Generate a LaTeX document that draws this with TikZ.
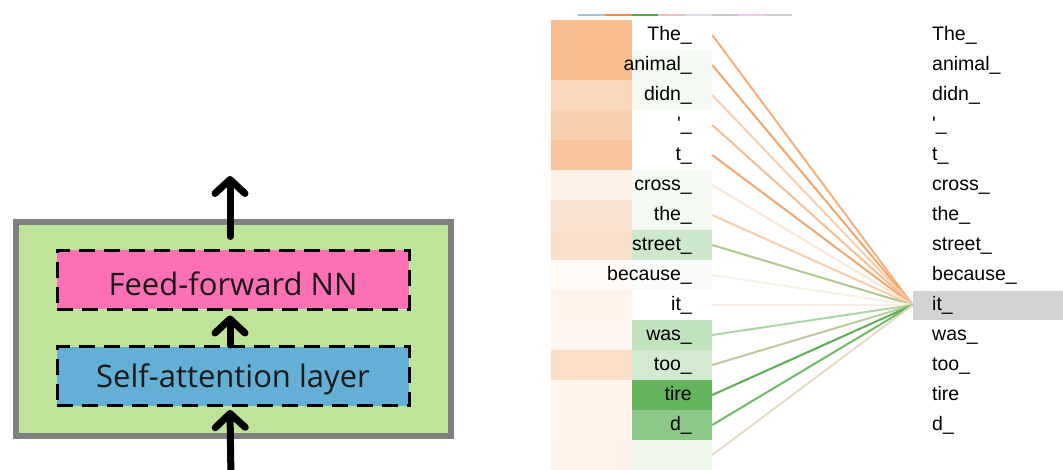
\documentclass[tikz,border=0pt]{standalone}
\usepackage{fontspec}
\setmainfont{Liberation Sans}
\newfontfamily\osans{Open Sans}
\usetikzlibrary{arrows.meta}
\definecolor{layergreen}{HTML}{BEE39B}
\definecolor{layergray}{HTML}{808080}
\definecolor{ffpink}{HTML}{FE70B4}
\definecolor{sablue}{HTML}{64AFD5}
\definecolor{textdark}{HTML}{1A1A1A}
\definecolor{hlgray}{HTML}{D3D3D3}
% legend line colours
\definecolor{t1}{HTML}{A8C0D8}\definecolor{t2}{HTML}{F08A4B}
\definecolor{t3}{HTML}{5BA84F}\definecolor{t4}{HTML}{E8C0C0}
\definecolor{t5}{HTML}{DCDCE8}\definecolor{t6}{HTML}{C8C8C8}
\definecolor{t7}{HTML}{F4C8E8}\definecolor{t8}{HTML}{D0D0D0}
% orange cells
\definecolor{o0}{HTML}{F6BE8E}\definecolor{o1}{HTML}{F6BE8E}\definecolor{o2}{HTML}{F9D8BC}
\definecolor{o3}{HTML}{F9D0AF}\definecolor{o4}{HTML}{F7C59C}\definecolor{o5}{HTML}{FDF1E7}
\definecolor{o6}{HTML}{FBE3D1}\definecolor{o7}{HTML}{FBE0CB}\definecolor{o8}{HTML}{FFFAF6}
\definecolor{o9}{HTML}{FEF4EC}\definecolor{o10}{HTML}{FEF6F0}\definecolor{o11}{HTML}{FBDEC7}
\definecolor{o12}{HTML}{FEF4EC}\definecolor{o13}{HTML}{FEF4EC}\definecolor{o14}{HTML}{FDF2E9}
% green cells
\definecolor{g0}{HTML}{FFFFFF}\definecolor{g1}{HTML}{F6FAF4}\definecolor{g2}{HTML}{F4F9F2}
\definecolor{g3}{HTML}{FFFFFF}\definecolor{g4}{HTML}{FFFFFF}\definecolor{g5}{HTML}{F6FAF4}
\definecolor{g6}{HTML}{F4F9F2}\definecolor{g7}{HTML}{CDE8CB}\definecolor{g8}{HTML}{F8FBF7}
\definecolor{g9}{HTML}{FFFFFF}\definecolor{g10}{HTML}{C0E2BD}\definecolor{g11}{HTML}{D2EACF}
\definecolor{g12}{HTML}{65B45E}\definecolor{g13}{HTML}{8CC986}\definecolor{g14}{HTML}{EEF6EC}
% attention lines
\definecolor{l0}{HTML}{F5B07D}\definecolor{l1}{HTML}{F3A66C}\definecolor{l2}{HTML}{F8CFAD}
\definecolor{l3}{HTML}{F6BE93}\definecolor{l4}{HTML}{F3A76E}\definecolor{l5}{HTML}{FBE7D8}
\definecolor{l6}{HTML}{F8CDA9}\definecolor{l7}{HTML}{B0C98D}\definecolor{l8}{HTML}{F2F2E6}
\definecolor{l9}{HTML}{FCEEE2}\definecolor{l10}{HTML}{A9D7A3}\definecolor{l11}{HTML}{BBCA9B}
\definecolor{l12}{HTML}{5BAE53}\definecolor{l13}{HTML}{6EBB66}\definecolor{l14}{HTML}{E4DBC1}
\begin{document}
\begin{tikzpicture}[x=1pt,y=-1pt,
  layerbox/.style={draw=layergray, line width=6pt, fill=layergreen,
    minimum width=435pt, minimum height=214pt, inner sep=0pt},
  subbox/.style={draw=black, line width=3pt, dash pattern=on 16pt off 9pt,
    minimum width=352pt, minimum height=59pt, inner sep=0pt,
    font=\osans\fontsize{31}{31}\selectfont, text=textdark, text depth=0pt},
  arr/.style={line width=7pt, line cap=round,
    -{Straight Barb[length=14pt,width=30pt,line cap=round,line join=round]}},
  tok/.style={font=\fontsize{19.5}{20}\selectfont, inner sep=0pt, text=black},
  ocell/.style={minimum width=81pt, minimum height=29.5pt, inner sep=0pt},
  gcell/.style={minimum width=80pt, minimum height=29.5pt, inner sep=0pt},
  att/.style={line width=2pt},
  legend/.style={line width=1.5pt}]
\useasboundingbox (0,0) rectangle (1063,469);

% ---------- left: encoder layer ----------
\node[layerbox] (layer) at (233.5,329) {};
\node[subbox, fill=ffpink, text height=31pt] (ff) at (233,279.5) {Feed-forward NN};
\node[subbox, fill=sablue, text height=22pt] (sa) at (233,376) {Self-attention layer};
\coordinate (inbot) at (231,480);
\coordinate (outtop) at (230,176);
\draw[arr] (inbot) -- ([xshift=-3pt,yshift=-3pt]sa.south);
\draw[arr] ([xshift=-3pt]sa.north) -- ([xshift=-3pt,yshift=-5pt]ff.south);
\draw[arr] ([xshift=-3pt,yshift=12pt]ff.north) -- (outtop);

% ---------- right: attention visualisation ----------
\draw[legend, t1] (578,15) -- (605,15);
\draw[legend, t2] (605,15) -- (632,15);
\draw[legend, t3] (632,15) -- (658,15);
\draw[legend, t4] (658,15) -- (685,15);
\draw[legend, t5] (685,15) -- (712,15);
\draw[legend, t6] (712,15) -- (738,15);
\draw[legend, t7] (738,15) -- (765,15);
\draw[legend, t8] (765,15) -- (792,15);

\node[fill=hlgray, minimum width=150pt, minimum height=29pt, inner sep=0pt] (hl) at (988,305) {};

\foreach \i in {0,...,14}{
  \node[ocell, fill=o\i] (oc\i) at (591.5,{35+30*\i}) {};
  \node[gcell, fill=g\i] (gc\i) at (672,{35+30*\i}) {};
}
\foreach \i in {0,...,14}{
  \draw[att, draw=l\i] (gc\i.east) -- (hl.west);
}
\foreach \i/\w in {0/The\_,1/animal\_,2/didn\_,3/\textquotesingle\_,4/t\_,5/cross\_,
  6/the\_,7/street\_,8/because\_,9/it\_,10/was\_,11/too\_,12/tire,13/d\_}{
  \node[tok, anchor=base east] (lt\i) at (692,{40+30*\i}) {\w};
  \node[tok, anchor=base west] (rt\i) at (932,{40+30*\i}) {\w};
}
\end{tikzpicture}
\end{document}
